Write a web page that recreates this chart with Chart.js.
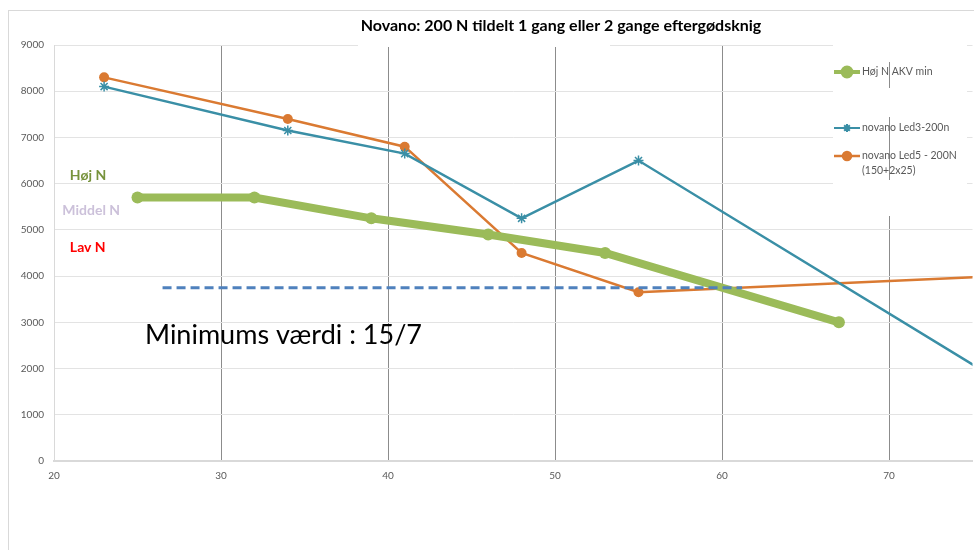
<!DOCTYPE html>
<html>
<head>
<meta charset="utf-8">
<script src="https://cdn.jsdelivr.net/npm/chart.js@4.4.1/dist/chart.umd.min.js"></script>
<style>
  body { margin: 0; background: #fff; }
  #wrap { width: 974px; height: 550px; position: relative; }
</style>
</head>
<body>
<div id="wrap"><canvas id="chart"></canvas></div>
<script>
// values
const hojX = [25, 32, 39, 46, 53, 67];
const hojY = [5700, 5700, 5250, 4900, 4500, 3000];
const led3X = [23, 34, 41, 48, 55, 76];
const led3Y = [8100, 7150, 6650, 5250, 6500, 1870];
const led5X = [23, 34, 41, 48, 55, 76];
const led5Y = [8300, 7400, 6800, 4500, 3650, 3990];
const minX = [26.5, 61.2];
const minY = [3750, 3750];
const xTicks = [20, 30, 40, 50, 60, 70];
const yTicks = [0, 1000, 2000, 3000, 4000, 5000, 6000, 7000, 8000, 9000];

const title = 'Novano: 200 N tildelt 1 gang eller 2 gange eftergødsknig';
const seriesNames = ['Høj N AKV min', 'novano Led3-200n', 'novano Led5 - 200N', '(150+2x25)'];
const levelLabels = ['Høj N', 'Middel N', 'Lav N'];
const levelX = [20.95, 20.5, 20.95];
const levelY = [6170, 5410, 4630];
const minText = 'Minimums værdi : 15/7';
const minTextX = 25.45;
const minTextY = 2727;

const GREEN = '#9BBB59', BLUE = '#3A8FA6', ORANGE = '#DA7A32', DASH = '#4F81BD';
const FONT = 'Lato, "Open Sans", sans-serif';

function pts(xs, ys) {
    return xs.map((x, i) => ({ x: x, y: ys[i] }));
}

// Title, free text, and the legend box on the right
const decorations = {
    id: 'decorations',
    beforeDraw(chart) {
        const ctx = chart.ctx;
        ctx.save();
        ctx.fillStyle = '#fff';
        ctx.fillRect(0, 0, chart.width, chart.height);
        // outer chart frame
        ctx.strokeStyle = '#D9D9D9';
        ctx.lineWidth = 1;
        ctx.strokeRect(8.5, 10.5, chart.width + 10, chart.height + 10);
        ctx.restore();
    },
    afterDatasetsDraw(chart) {
        const ctx = chart.ctx;
        const xs = chart.scales.x, ys = chart.scales.y;
        ctx.save();

        // title box hides part of the top gridline
        ctx.fillStyle = '#fff';
        ctx.fillRect(358, 11, 252, 36);
        ctx.fillStyle = '#000';
        ctx.font = 'bold 16px ' + FONT;
        ctx.textAlign = 'center';
        ctx.textBaseline = 'middle';
        ctx.fillText(title, 561, 26);
        ctx.textAlign = 'left';

        // level labels
        const levelColors = ['#77933C', '#CCC1DA', '#FF0000'];
        ctx.font = 'bold 14px ' + FONT;
        levelLabels.forEach((t, i) => {
            ctx.fillStyle = levelColors[i];
            ctx.fillText(t, xs.getPixelForValue(levelX[i]), ys.getPixelForValue(levelY[i]));
        });

        // minimum note
        ctx.fillStyle = '#000';
        ctx.font = '27px ' + FONT;
        ctx.fillText(minText, xs.getPixelForValue(minTextX), ys.getPixelForValue(minTextY));

        // legend box
        ctx.fillStyle = '#fff';
        ctx.fillRect(833, 40, 134, 176);
        const gx = Math.round(xs.getPixelForValue(70)) + 0.5;
        ctx.strokeStyle = '#8C8C8C';
        ctx.lineWidth = 1;
        ctx.beginPath();
        ctx.moveTo(gx, 62); ctx.lineTo(gx, 88);
        ctx.moveTo(gx, 117); ctx.lineTo(gx, 180);
        ctx.stroke();

        const rows = [
            { y: 72, color: GREEN, w: 4, style: 'circle', r: 4.5 },
            { y: 128, color: BLUE, w: 2, style: 'star', r: 4 },
            { y: 156, color: ORANGE, w: 2.5, style: 'circle', r: 4 }
        ];
        ctx.font = '10.5px ' + FONT;
        rows.forEach((r, i) => {
            ctx.strokeStyle = r.color;
            ctx.lineWidth = r.w;
            ctx.beginPath();
            ctx.moveTo(834, r.y);
            ctx.lineTo(860, r.y);
            ctx.stroke();
            ctx.fillStyle = r.color;
            Chart.helpers.drawPoint(ctx, { pointStyle: r.style, radius: r.r, borderWidth: 1.5 }, 847, r.y);
            if (r.style === 'circle') ctx.fill();
            ctx.fillStyle = '#595959';
            ctx.fillText(seriesNames[i], 862, r.y);
        });
        ctx.fillText(seriesNames[3], 862, 171);
        ctx.restore();
    }
};

new Chart(document.getElementById('chart'), {
    type: 'scatter',
    data: {
        datasets: [{
            label: 'Minimum',
            data: pts(minX, minY),
            showLine: true,
            borderColor: DASH,
            borderWidth: 3,
            borderDash: [9, 5],
            pointRadius: 0
        }, {
            label: seriesNames[0],
            data: pts(hojX, hojY),
            showLine: true,
            borderColor: GREEN,
            backgroundColor: GREEN,
            borderWidth: 8,
            pointRadius: 6,
            pointBorderWidth: 0
        }, {
            label: seriesNames[1],
            data: pts(led3X, led3Y),
            showLine: true,
            borderColor: BLUE,
            backgroundColor: BLUE,
            borderWidth: 2.5,
            pointStyle: 'star',
            pointRadius: 5,
            pointBorderWidth: 1.5
        }, {
            label: seriesNames[2],
            data: pts(led5X, led5Y),
            showLine: true,
            borderColor: ORANGE,
            backgroundColor: ORANGE,
            borderWidth: 2.5,
            pointRadius: 5,
            pointBorderWidth: 0
        }]
    },
    options: {
        responsive: true,
        maintainAspectRatio: false,
        animation: false,
        layout: { autoPadding: false, padding: { left: 0, top: 45, right: 1.5, bottom: 0 } },
        plugins: {
            legend: { display: false },
            tooltip: { enabled: false }
        },
        scales: {
            x: {
                type: 'linear',
                min: 20,
                max: 75,
                afterBuildTicks: (s) => { s.ticks = xTicks.map(v => ({ value: v })); },
                afterFit: (s) => { s.height = 89; },
                grid: {
                    color: (c) => c.tick && c.tick.value === 20 ? 'rgba(0,0,0,0)' : '#8C8C8C',
                    drawTicks: false
                },
                border: { color: '#D9D9D9', width: 2 },
                ticks: { color: '#595959', font: { family: FONT, size: 10 }, padding: 9 }
            },
            y: {
                min: 0,
                max: 9000,
                afterBuildTicks: (s) => { s.ticks = yTicks.map(v => ({ value: v })); },
                afterFit: (s) => { s.width = 54; },
                grid: { color: '#E3E3E3', drawTicks: false },
                border: { color: '#D9D9D9', width: 1 },
                ticks: {
                    color: '#595959',
                    font: { family: FONT, size: 10 },
                    padding: 10,
                    callback: (v) => String(v)
                }
            }
        }
    },
    plugins: [decorations]
});
</script>
</body>
</html>
